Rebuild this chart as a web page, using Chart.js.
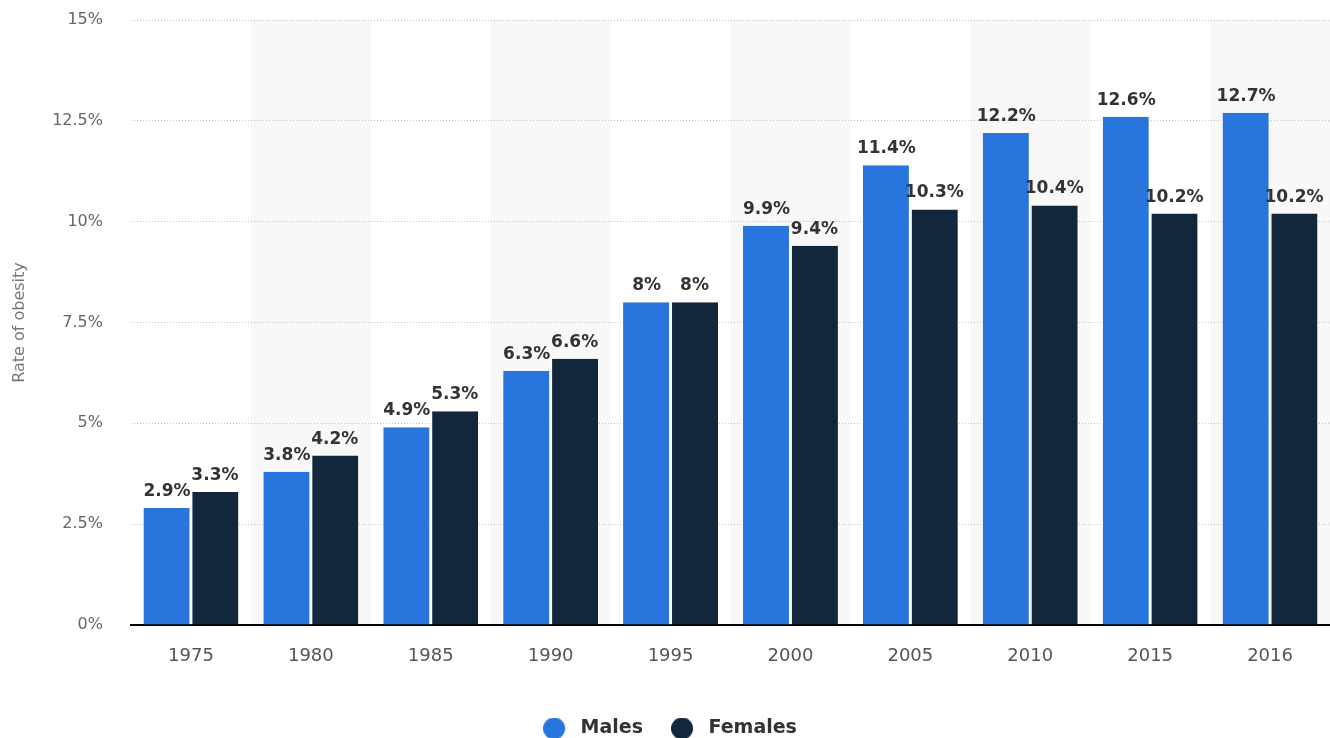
<!DOCTYPE html>
<html>
<head>
<meta charset="utf-8">
<script src="https://cdn.jsdelivr.net/npm/chart.js@4"></script>
<style>
  html, body { margin: 0; padding: 0; background: #fff; }
  #wrap { width: 1330px; height: 738px; }
</style>
</head>
<body>
<div id="wrap"><canvas id="chart"></canvas></div>
<script>
// Data
const years = ['1975', '1980', '1985', '1990', '1995', '2000', '2005', '2010', '2015', '2016'];
const males = [2.9, 3.8, 4.9, 6.3, 8, 9.9, 11.4, 12.2, 12.6, 12.7];
const females = [3.3, 4.2, 5.3, 6.6, 8, 9.4, 10.3, 10.4, 10.2, 10.2];
const seriesNames = ['Males', 'Females'];
const colors = ['#2876dd', '#12263c'];

const FONT = '"DejaVu Sans", sans-serif';

// legend marker: circle drawn at the left of a wider box
const marker = (color) => {
  const c = document.createElement('canvas');
  c.width = 28; c.height = 22;
  const g = c.getContext('2d');
  g.fillStyle = color;
  g.beginPath();
  g.arc(11, 11, 11, 0, Math.PI * 2);
  g.fill();
  return c;
};
const markers = colors.map(marker);

// alternating light background columns (under the grid)
const bandPlugin = {
  id: 'bands',
  beforeDraw(chart) {
    const { ctx, chartArea, scales } = chart;
    const x = scales.x;
    const w = (chartArea.right - chartArea.left) / years.length;
    ctx.save();
    ctx.fillStyle = '#f8f8f8';
    years.forEach((y, i) => {
      if (i % 2 === 1) {
        const c = x.getPixelForValue(i);
        ctx.fillRect(c - w / 2, chartArea.top, w, chartArea.bottom - chartArea.top);
      }
    });
    ctx.restore();
  }
};

// value labels above the bars
const labelPlugin = {
  id: 'valueLabels',
  afterDatasetsDraw(chart) {
    const { ctx } = chart;
    ctx.save();
    ctx.font = 'bold 17px ' + FONT;
    ctx.fillStyle = '#333';
    ctx.textAlign = 'center';
    ctx.textBaseline = 'bottom';
    chart.data.datasets.forEach((ds, di) => {
      const meta = chart.getDatasetMeta(di);
      meta.data.forEach((bar, i) => {
        ctx.fillText(ds.data[i] + '%', bar.x, bar.y - 8);
      });
    });
    ctx.restore();
  }
};

const ctx = document.getElementById('chart').getContext('2d');
new Chart(ctx, {
  type: 'bar',
  data: {
    labels: years,
    datasets: [
      { label: seriesNames[0], data: males, backgroundColor: colors[0], borderColor: '#ffffff', borderWidth: { right: 1 }, borderSkipped: false },
      { label: seriesNames[1], data: females, backgroundColor: colors[1], borderColor: '#ffffff', borderWidth: { left: 1 }, borderSkipped: false }
    ]
  },
  options: {
    responsive: true,
    maintainAspectRatio: false,
    animation: false,
    layout: { padding: { top: 20, right: 0, left: 10, bottom: -10 } },
    datasets: { bar: { categoryPercentage: 0.8, barPercentage: 0.98 } },
    scales: {
      x: {
        afterFit(scale) { scale.height = 66; },
        grid: { display: false, drawTicks: false },
        border: { color: '#000', width: 2 },
        ticks: { color: '#555', font: { family: FONT, size: 18 }, padding: 21 }
      },
      y: {
        min: 0,
        max: 15,
        afterFit(scale) {
          scale.width = 121;
          scale.paddingTop = 0;
          scale.paddingBottom = 0;
        },
        ticks: {
          stepSize: 2.5,
          color: '#666',
          padding: 28,
          font: { family: FONT, size: 16 },
          callback: v => v + '%'
        },
        grid: { color: '#c4c4c4', drawTicks: false, lineWidth: 1 },
        border: { display: false, dash: [1, 2] },
        title: { display: true, text: 'Rate of obesity', color: '#777', font: { family: FONT, size: 16 }, padding: { top: 0, bottom: 0 } }
      }
    },
    plugins: {
      legend: {
        position: 'bottom',
        labels: {
          usePointStyle: true,
          pointStyleWidth: 28,
          boxHeight: 19,
          padding: 28,
          color: '#333',
          font: { family: FONT, size: 19, weight: 'bold' },
          generateLabels(chart) {
            const items = Chart.defaults.plugins.legend.labels.generateLabels(chart);
            items.forEach((it, i) => { it.pointStyle = markers[i]; });
            return items;
          }
        }
      },
      tooltip: { enabled: false }
    }
  },
  plugins: [bandPlugin, labelPlugin]
});
</script>
</body>
</html>
